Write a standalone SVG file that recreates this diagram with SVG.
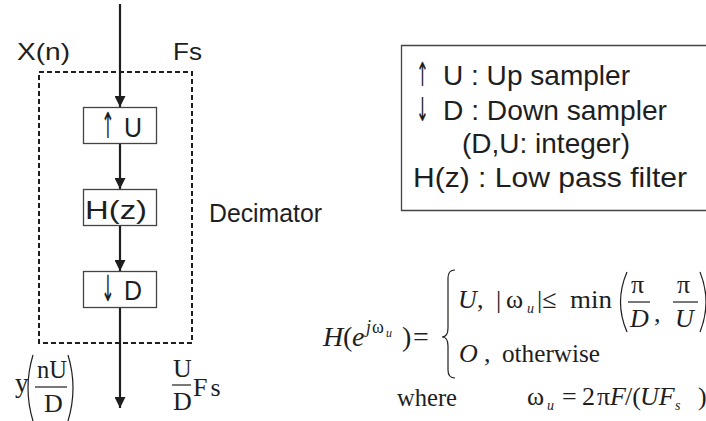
<svg xmlns="http://www.w3.org/2000/svg" width="706" height="421" viewBox="0 0 706 421">
<style>
.sans{font-family:"Liberation Sans",Arial,sans-serif;fill:#1e1e1e}
.arr{font-family:"DejaVu Sans",sans-serif;fill:#1e1e1e}
.serif{font-family:"Liberation Serif","Times New Roman",serif;fill:#1e1e1e}
.it{font-style:italic}
.box{fill:#fff;stroke:#444;stroke-width:1.3}
.conn{stroke:#1e1e1e;stroke-width:2.2;fill:none}
.thin{stroke:#1e1e1e;stroke-width:1.2;fill:none}
</style>
<defs>
<marker id="ah" markerUnits="userSpaceOnUse" markerWidth="12" markerHeight="11" refX="11" refY="5.5" orient="auto">
<path d="M0,0 L11,5.5 L0,11 Z" fill="#1e1e1e"/>
</marker>
</defs>
<rect width="706" height="421" fill="#fff"/>

<g id="decimator">
<rect x="39" y="72" width="153" height="271" fill="none" stroke="#1e1e1e" stroke-width="2" stroke-dasharray="5,3"/>
<text class="sans" x="209" y="222" font-size="25" textLength="113" lengthAdjust="spacingAndGlyphs">Decimator</text>
</g>

<g id="input-labels">
<text class="sans" x="17" y="60" font-size="24" textLength="53" lengthAdjust="spacingAndGlyphs">X(n)</text>
<text class="sans" x="173" y="60" font-size="24" textLength="29" lengthAdjust="spacingAndGlyphs">Fs</text>
</g>

<g id="connectors">
<line class="conn" x1="120" y1="4" x2="120" y2="107" marker-end="url(#ah)"/>
<line class="conn" x1="120" y1="143" x2="120" y2="189" marker-end="url(#ah)"/>
<line class="conn" x1="120" y1="226" x2="120" y2="271" marker-end="url(#ah)"/>
<line class="conn" x1="120" y1="307" x2="120" y2="408" marker-end="url(#ah)"/>
</g>

<g id="upsampler">
<rect class="box" x="83.5" y="107.5" width="73" height="36"/>
<text class="arr" transform="translate(101,138) scale(0.45,1)" x="0" y="0" font-size="36">↑</text>
<text class="sans" x="124" y="137" font-size="27" textLength="18" lengthAdjust="spacingAndGlyphs">U</text>
</g>

<g id="filter">
<rect class="box" x="83.5" y="189.5" width="73" height="36"/>
<text class="sans" x="85" y="219" font-size="26" textLength="62" lengthAdjust="spacingAndGlyphs">H(z)</text>
</g>

<g id="downsampler">
<rect class="box" x="83.5" y="271.5" width="73" height="36"/>
<text class="arr" transform="translate(101,301) scale(0.45,1)" x="0" y="0" font-size="36">↓</text>
<text class="sans" x="124" y="300" font-size="27" textLength="18" lengthAdjust="spacingAndGlyphs">D</text>
</g>

<g id="output-labels">
<text class="serif" x="15" y="392" font-size="27">y</text>
<path class="thin" d="M33,355 Q23,388 33,421"/>
<path class="thin" d="M68,355 Q78,388 68,421"/>
<text class="serif" x="37" y="378" font-size="26" textLength="30" lengthAdjust="spacingAndGlyphs">nU</text>
<line class="thin" x1="35" y1="387" x2="67" y2="387"/>
<text class="serif" x="44" y="412" font-size="26">D</text>
<text class="serif" x="173" y="377" font-size="26">U</text>
<line class="thin" x1="172" y1="385" x2="191" y2="385"/>
<text class="serif" x="173" y="410" font-size="26">D</text>
<text class="serif" x="193" y="396" font-size="26" letter-spacing="3">Fs</text>
</g>

<g id="legend">
<path d="M706,45.5 H401.5 V210.5 H706" fill="none" stroke="#444" stroke-width="1.3"/>
<text class="arr" transform="translate(416,86) scale(0.47,1)" x="0" y="0" font-size="33">↑</text>
<text class="sans" x="443" y="85" font-size="28" textLength="187" lengthAdjust="spacingAndGlyphs">U : Up sampler</text>
<text class="arr" transform="translate(416,121) scale(0.47,1)" x="0" y="0" font-size="33">↓</text>
<text class="sans" x="443" y="120" font-size="28" textLength="224" lengthAdjust="spacingAndGlyphs">D : Down sampler</text>
<text class="sans" x="462" y="153" font-size="28" textLength="168" lengthAdjust="spacingAndGlyphs">(D,U: integer)</text>
<text class="sans" x="413" y="187" font-size="28" textLength="274" lengthAdjust="spacingAndGlyphs">H(z) : Low pass filter</text>
</g>

<g id="formula">
<text class="serif it" x="323" y="346" font-size="28">H</text>
<text class="serif" x="343" y="346" font-size="28">(</text>
<text class="serif it" x="352" y="346" font-size="28">e</text>
<text class="serif it" x="366" y="333" font-size="18">j</text>
<text class="serif" x="372" y="333" font-size="18">ω</text>
<text class="serif it" x="386" y="337" font-size="12">u</text>
<text class="serif" x="402" y="346" font-size="28">)</text>
<text class="serif" x="413" y="346" font-size="28">=</text>
<path class="thin" stroke-width="1.4" d="M455,270 Q448,270 448,278 L448,328 Q448,337 442,337 Q448,337 448,346 L448,370 Q448,378 455,378"/>
<text class="serif it" x="458" y="308" font-size="26">U</text>
<text class="serif" x="477" y="308" font-size="26">,</text>
<text class="serif" x="496" y="308" font-size="26">|</text>
<text class="serif" x="506" y="308" font-size="26">ω</text>
<text class="serif it" x="527" y="313" font-size="14">u</text>
<text class="serif" x="537" y="308" font-size="26">|≤</text>
<text class="serif" x="570" y="308" font-size="26" textLength="42" lengthAdjust="spacingAndGlyphs">min</text>
<path class="thin" stroke-width="1.4" d="M627,272 Q614,302 627,332"/>
<text class="serif" x="631" y="293" font-size="26">π</text>
<line class="thin" x1="628" y1="302" x2="650" y2="302"/>
<text class="serif it" x="630" y="327" font-size="26">D</text>
<text class="serif" x="654" y="322" font-size="26">,</text>
<text class="serif" x="677" y="293" font-size="26">π</text>
<line class="thin" x1="673" y1="302" x2="698" y2="302"/>
<text class="serif it" x="675" y="327" font-size="26">U</text>
<path class="thin" stroke-width="1.4" d="M700,272 Q712,302 700,332"/>
<text class="serif it" x="459" y="362" font-size="26">O</text>
<text class="serif" x="484" y="362" font-size="26">,</text>
<text class="serif" x="502" y="362" font-size="26" textLength="98" lengthAdjust="spacingAndGlyphs">otherwise</text>
<text class="serif" x="397" y="406" font-size="25" textLength="60" lengthAdjust="spacingAndGlyphs">where</text>
<text class="serif" x="527" y="405" font-size="26">ω</text>
<text class="serif it" x="547" y="410" font-size="14">u</text>
<text class="serif" x="562" y="405" font-size="26">=</text>
<text class="serif" x="582" y="405" font-size="26">2</text>
<text class="serif" x="597" y="405" font-size="26">π</text>
<text class="serif it" x="610" y="405" font-size="26">F</text>
<text class="serif" x="625" y="405" font-size="26">/(</text>
<text class="serif it" x="640" y="405" font-size="26">UF</text>
<text class="serif it" x="675" y="410" font-size="14">s</text>
<text class="serif" x="698" y="405" font-size="26">)</text>
</g>
</svg>
